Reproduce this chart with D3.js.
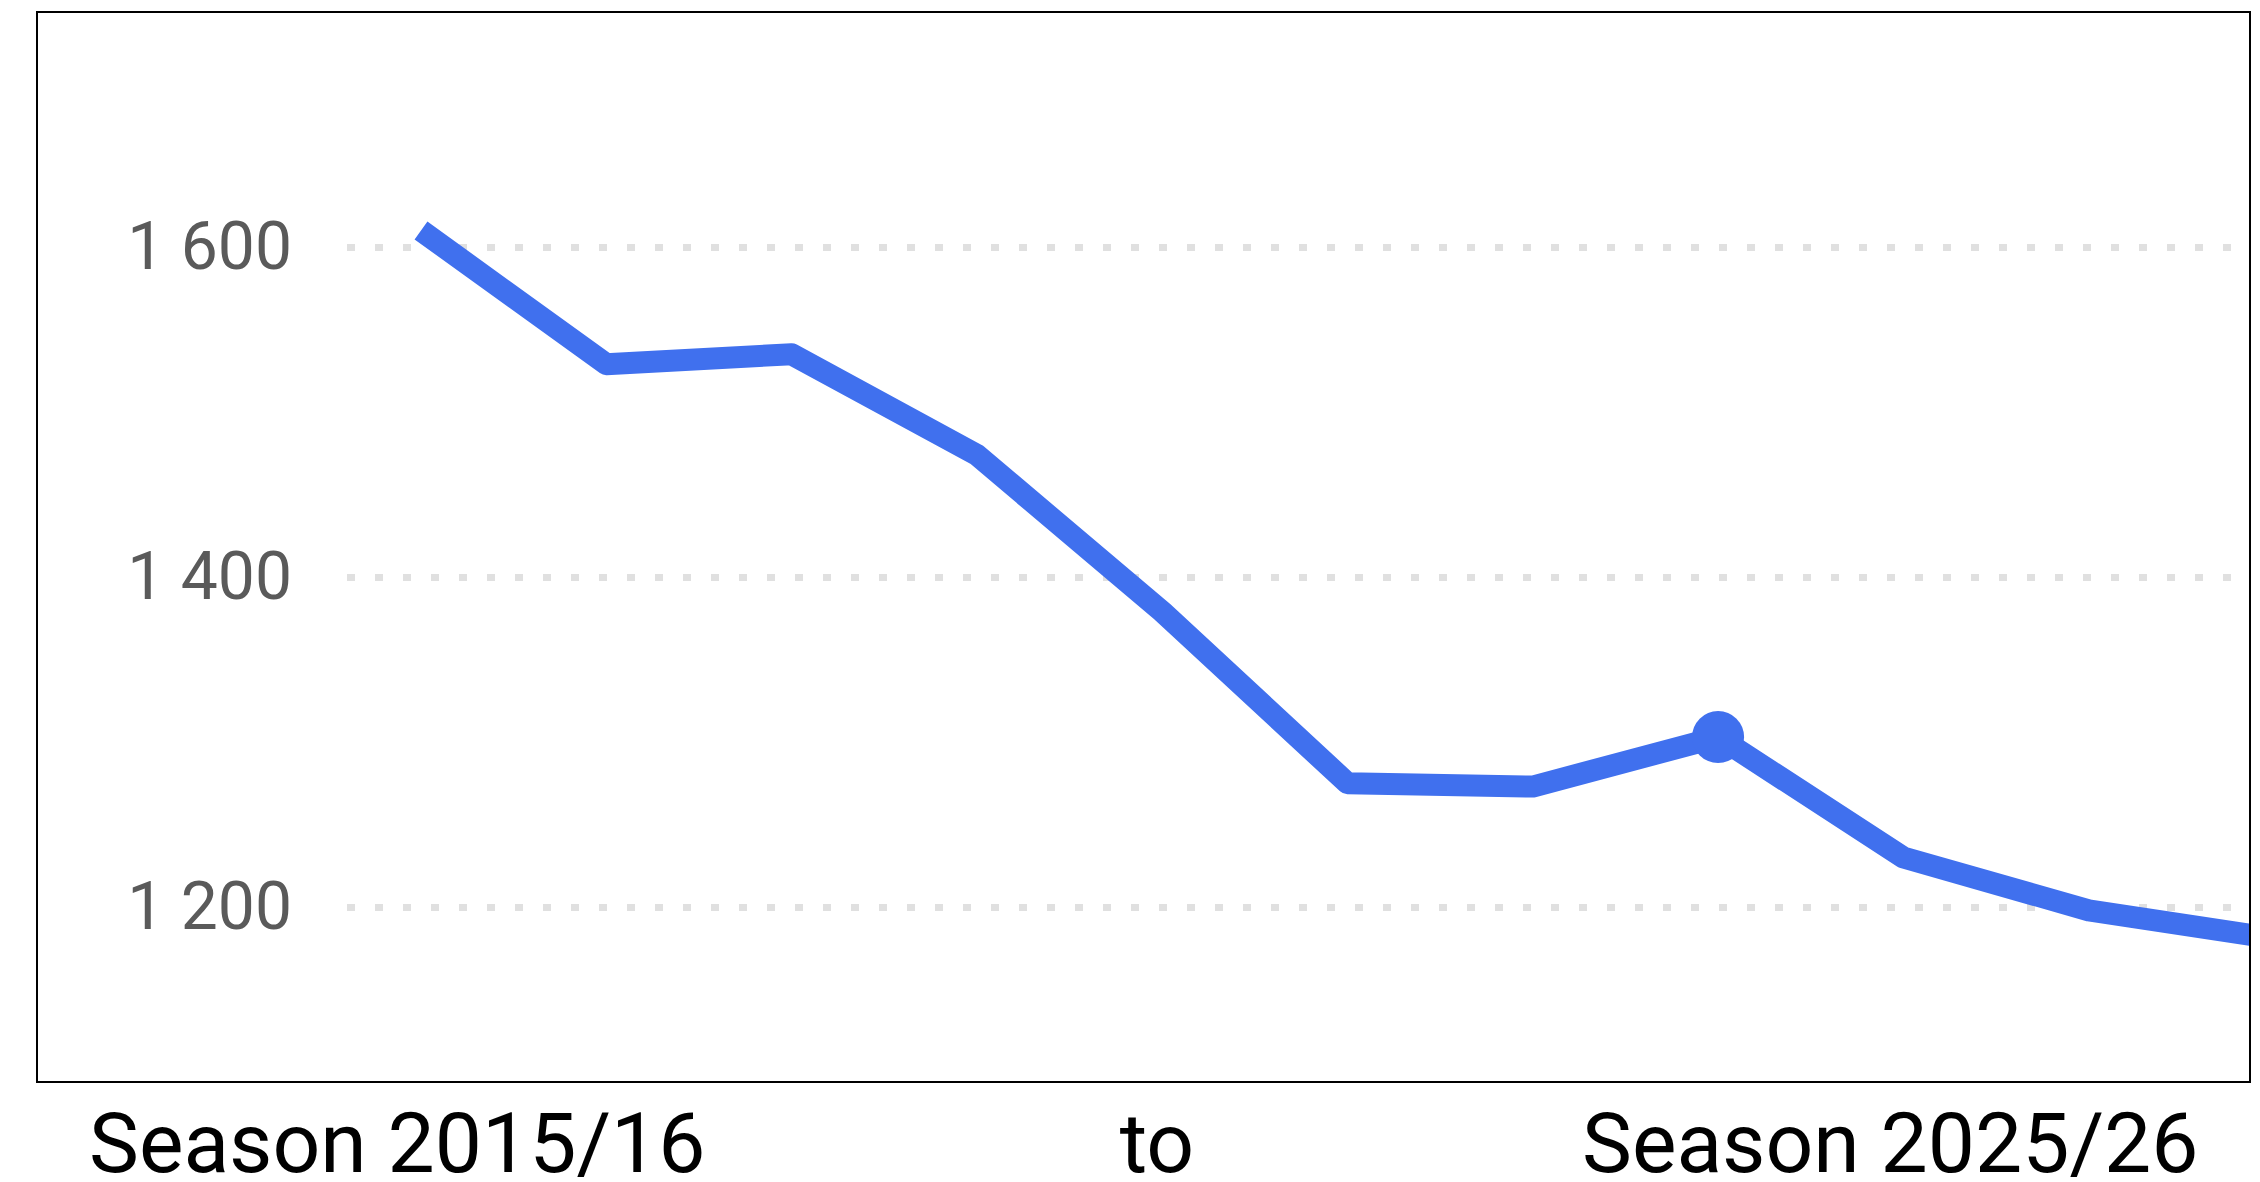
<!DOCTYPE html>
<html>
<head>
<meta charset="utf-8">
<script src="https://cdnjs.cloudflare.com/ajax/libs/d3/7.8.5/d3.min.js"></script>
<style>
  html, body { margin: 0; padding: 0; background: #fff; }
  svg { display: block; font-family: Roboto, "Noto Sans", sans-serif; }
</style>
</head>
<body>
<div id="chart"></div>
<script>
const seasons = ["2015/16", "2016/17", "2017/18", "2018/19", "2019/20", "2020/21",
                 "2021/22", "2022/23", "2023/24", "2024/25", "2025/26"]
const values = [1610, 1529, 1535, 1474, 1379, 1275, 1273, 1303, 1230, 1198, 1181]
const yTicks = [1200, 1400, 1600]
const highlighted = "2022/23"
const captionLeft = "Season 2015/16"
const captionMid = "to"
const captionRight = "Season 2025/26"

const width = 2260
const height = 1182

// frame of the plot area
const frame = { left: 37, top: 12, right: 2250, bottom: 1082 }

const dataset = seasons.map((s, i) => ({ season: s, value: values[i] }))

const xScale = d3.scalePoint()
                  .domain(seasons)
                  .range([421, 2274])

const yScale = d3.scaleLinear()
                  .domain([1200, 1600])
                  .range([907, 247])

// Canvas
const svg = d3.select("#chart")
              .append("svg")
                .attr("width", width)
                .attr("height", height)

svg.append("defs")
    .append("clipPath")
      .attr("id", "plot-clip")
    .append("rect")
      .attr("x", frame.left)
      .attr("y", frame.top)
      .attr("width", frame.right - frame.left - 1)
      .attr("height", frame.bottom - frame.top)

// Gridlines + tick labels
const yAxis = d3.axisLeft(yScale)
                .tickValues(yTicks)
                .tickSize(-(frame.right - 347))
                .tickPadding(55)
                .tickFormat(d => d3.format(",")(d).replace(",", " "))

const gy = svg.append("g")
              .attr("transform", "translate(347,0)")
              .call(yAxis)

gy.select(".domain").remove()
gy.selectAll(".tick line")
    .attr("stroke", "#e0e0e0")
    .attr("stroke-width", 7)
    .attr("stroke-dasharray", "8 20")
gy.selectAll(".tick text")
    .attr("fill", "#5a5a5a")
    .attr("font-size", 66)
    .attr("font-family", "Roboto, sans-serif")
    .attr("dy", "0.33em")

// Line
const line = d3.line()
                .x(d => xScale(d.season))
                .y(d => yScale(d.value))

svg.append("path")
    .datum(dataset)
    .attr("clip-path", "url(#plot-clip)")
    .attr("d", line)
    .attr("fill", "none")
    .attr("stroke", "#4070ee")
    .attr("stroke-width", 22)
    .attr("stroke-linejoin", "round")

svg.selectAll("circle.dot")
    .data(dataset.filter(d => d.season === highlighted))
    .enter()
    .append("circle")
      .attr("class", "dot")
      .attr("cx", d => xScale(d.season))
      .attr("cy", d => yScale(d.value))
      .attr("r", 26)
      .attr("fill", "#4070ee")

// Frame
svg.append("rect")
    .attr("x", frame.left)
    .attr("y", frame.top)
    .attr("width", frame.right - frame.left)
    .attr("height", frame.bottom - frame.top)
    .attr("fill", "none")
    .attr("stroke", "#000")
    .attr("stroke-width", 2)

// Captions below
const captions = [
  { text: captionLeft, x: 89, anchor: "start" },
  { text: captionMid, x: 1157, anchor: "middle" },
  { text: captionRight, x: 1582, anchor: "start" }
]

svg.selectAll("text.caption")
    .data(captions)
    .enter()
    .append("text")
      .attr("class", "caption")
      .text(d => d.text)
      .attr("x", d => d.x)
      .attr("y", 1172)
      .attr("text-anchor", d => d.anchor)
      .attr("font-size", 84)
      .attr("fill", "#000")
</script>
</body>
</html>
